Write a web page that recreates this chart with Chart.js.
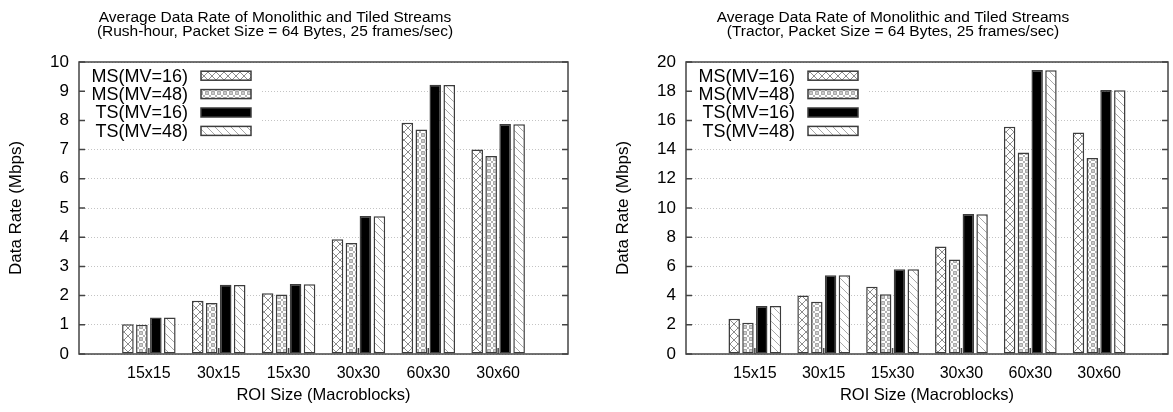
<!DOCTYPE html>
<html>
<head>
<meta charset="utf-8">
<script src="https://cdn.jsdelivr.net/npm/chart.js@4.4.0/dist/chart.umd.min.js"></script>
<style>
  body { margin: 0; background: #fff; overflow: hidden; width: 1173px; height: 412px; position: relative; }
  canvas { position: absolute; top: 0; }
  #rush { left: 0; }
  #tractor { left: 586px; }
</style>
</head>
<body>
<canvas id="rush" width="586" height="412"></canvas>
<canvas id="tractor" width="592" height="412"></canvas>
<script>
// ROI sizes on the x axis
var categories = ['15x15', '30x15', '15x30', '30x30', '60x30', '30x60'];
var seriesNames = ['MS(MV=16)', 'MS(MV=48)', 'TS(MV=16)', 'TS(MV=48)'];

// Rush-hour (Mbps)
var rushMs16 = [1.02, 1.82, 2.08, 3.93, 7.92, 7.00];
var rushMs48 = [1.00, 1.75, 2.04, 3.80, 7.69, 6.78];
var rushTs16 = [1.25, 2.37, 2.40, 4.73, 9.22, 7.88];
var rushTs48 = [1.25, 2.36, 2.39, 4.72, 9.21, 7.87];

// Tractor (Mbps)
var tractorMs16 = [2.41, 4.01, 4.60, 7.36, 15.56, 15.17];
var tractorMs48 = [2.14, 3.58, 4.10, 6.47, 13.80, 13.42];
var tractorTs16 = [3.28, 5.40, 5.81, 9.59, 19.45, 18.09];
var tractorTs48 = [3.28, 5.40, 5.81, 9.57, 19.43, 18.06];

var FONT = '"Liberation Sans", Arial, Helvetica, sans-serif';

// gnuplot-like fill patterns
function makePattern(kind) {
    var size = kind == 'dots' ? 6 : 8;
    var c = document.createElement('canvas');
    c.width = size; c.height = size;
    var p = c.getContext('2d');
    p.fillStyle = '#fff';
    p.fillRect(0, 0, size, size);
    p.lineWidth = 1;
    if (kind == 'cross') {
        p.strokeStyle = '#8c8c8c';
        p.beginPath();
        p.moveTo(0, 0); p.lineTo(size, size);
        p.moveTo(size, 0); p.lineTo(0, size);
        p.stroke();
    } else if (kind == 'dots') {
        p.strokeStyle = '#b5b5b5';
        p.beginPath();
        p.moveTo(0, 0); p.lineTo(size, size);
        p.moveTo(size, 0); p.lineTo(0, size);
        p.stroke();
        p.fillStyle = '#fff';
        p.strokeStyle = '#8c8c8c';
        p.beginPath();
        p.arc(size / 2, size / 2, 1.4, 0, Math.PI * 2);
        p.fill();
        p.stroke();
    } else if (kind == 'diag') {
        p.strokeStyle = '#a8a8a8';
        p.beginPath();
        p.moveTo(-1, -1); p.lineTo(size + 1, size + 1);
        p.stroke();
    }
    return p.createPattern(c, 'repeat');
}

var fills = [makePattern('cross'), makePattern('dots'), '#000', makePattern('diag')];
var edge = '#3c3c3c';

// titles, legend, frame and inward tics
var paperPlugin = {
    id: 'paper',
    beforeDatasetsDraw: function(chart, args, opts) {
        var ctx = chart.ctx, a = chart.chartArea;
        ctx.save();
        // x tics at the group centres (mostly hidden by bars)
        ctx.strokeStyle = '#444';
        ctx.lineWidth = 1.5;
        var xs = chart.scales.x;
        for (var i = 1; i <= categories.length; i++) {
            var px = xs.getPixelForValue(i);
            ctx.beginPath();
            ctx.moveTo(px, a.bottom);
            ctx.lineTo(px, a.bottom - 6);
            ctx.stroke();
        }
        // legend, with white background over the grid
        ctx.fillStyle = '#fff';
        ctx.fillRect(a.left + 1, a.top + 1, 182, 80);
        ctx.font = '18px ' + FONT;
        ctx.textAlign = 'right';
        ctx.textBaseline = 'middle';
        chart.data.datasets.forEach(function(ds, k) {
            var y = a.top + 13.7 + k * 18.4;
            ctx.fillStyle = '#000';
            ctx.fillText(ds.label, a.left + 109, y + 1);
            ctx.fillStyle = ds.backgroundColor;
            ctx.fillRect(a.left + 122, y - 4.5, 50, 9);
            ctx.strokeStyle = edge;
            ctx.lineWidth = 1.5;
            ctx.strokeRect(a.left + 122, y - 4.5, 50, 9);
        });
        ctx.restore();
    },
    afterDraw: function(chart, args, opts) {
        var ctx = chart.ctx, a = chart.chartArea;
        ctx.save();
        ctx.strokeStyle = '#444';
        ctx.lineWidth = 1.5;
        ctx.strokeRect(a.left, a.top, a.right - a.left, a.bottom - a.top);
        var ys = chart.scales.y;
        ys.ticks.forEach(function(t) {
            var py = ys.getPixelForValue(t.value);
            ctx.beginPath();
            ctx.moveTo(a.left, py); ctx.lineTo(a.left + 6, py);
            ctx.moveTo(a.right, py); ctx.lineTo(a.right - 6, py);
            ctx.stroke();
        });
        ctx.fillStyle = '#000';
        ctx.font = '15.5px ' + FONT;
        ctx.textAlign = 'center';
        ctx.textBaseline = 'alphabetic';
        ctx.fillText(opts.lines[0], opts.x, 22);
        ctx.fillText(opts.lines[1], opts.x, 35.5);
        ctx.restore();
    }
};

function makeChart(id, series, yMax, yStep, axisWidth, titlePad, tickPad, padRight, titleX, subtitle) {
    var labels = [''].concat(categories).concat(['']);
    var datasets = series.map(function(vals, k) {
        return {
            label: seriesNames[k],
            data: [null].concat(vals).concat([null]),
            backgroundColor: fills[k],
            borderColor: edge,
            borderWidth: 1.5,
            borderSkipped: false,
            categoryPercentage: 0.8,
            barPercentage: 0.83
        };
    });
    return new Chart(document.getElementById(id).getContext('2d'), {
        type: 'bar',
        data: { labels: labels, datasets: datasets },
        plugins: [paperPlugin],
        options: {
            responsive: false,
            animation: false,
            devicePixelRatio: 1,
            layout: { padding: { top: 62, right: padRight, bottom: 0, left: 0 } },
            plugins: {
                legend: { display: false },
                tooltip: { enabled: false },
                paper: {
                    x: titleX,
                    lines: ['Average Data Rate of Monolithic and Tiled Streams', subtitle]
                }
            },
            scales: {
                x: {
                    type: 'category',
                    offset: false,
                    grid: { display: false, drawTicks: false },
                    border: { display: false },
                    ticks: {
                        color: '#000', font: { family: FONT, size: 16 },
                        padding: 10, maxRotation: 0, autoSkip: false
                    },
                    title: {
                        display: true, text: 'ROI Size (Macroblocks)', color: '#000',
                        font: { family: FONT, size: 16.5 }, padding: { top: 0, bottom: 7 }
                    },
                    afterFit: function(s) { s.height = 58; }
                },
                y: {
                    min: 0, max: yMax,
                    grid: { color: '#c4c4c4', lineWidth: 1, drawTicks: false },
                    border: { display: false, dash: [1, 2] },
                    ticks: {
                        stepSize: yStep, color: '#000',
                        font: { family: FONT, size: 17 }, padding: tickPad
                    },
                    title: {
                        display: true, text: 'Data Rate (Mbps)', color: '#000',
                        font: { family: FONT, size: 17 }, padding: { top: titlePad, bottom: 0 }
                    },
                    afterFit: function(s) { s.width = axisWidth; }
                }
            }
        }
    });
}

makeChart('rush', [rushMs16, rushMs48, rushTs16, rushTs48], 10, 1, 79, 6, 10, 18, 275,
    '(Rush-hour, Packet Size = 64 Bytes, 25 frames/sec)');
makeChart('tractor', [tractorMs16, tractorMs48, tractorTs16, tractorTs48], 20, 2, 100, 27, 10, 2, 307,
    '(Tractor, Packet Size = 64 Bytes, 25 frames/sec)');
</script>
</body>
</html>
